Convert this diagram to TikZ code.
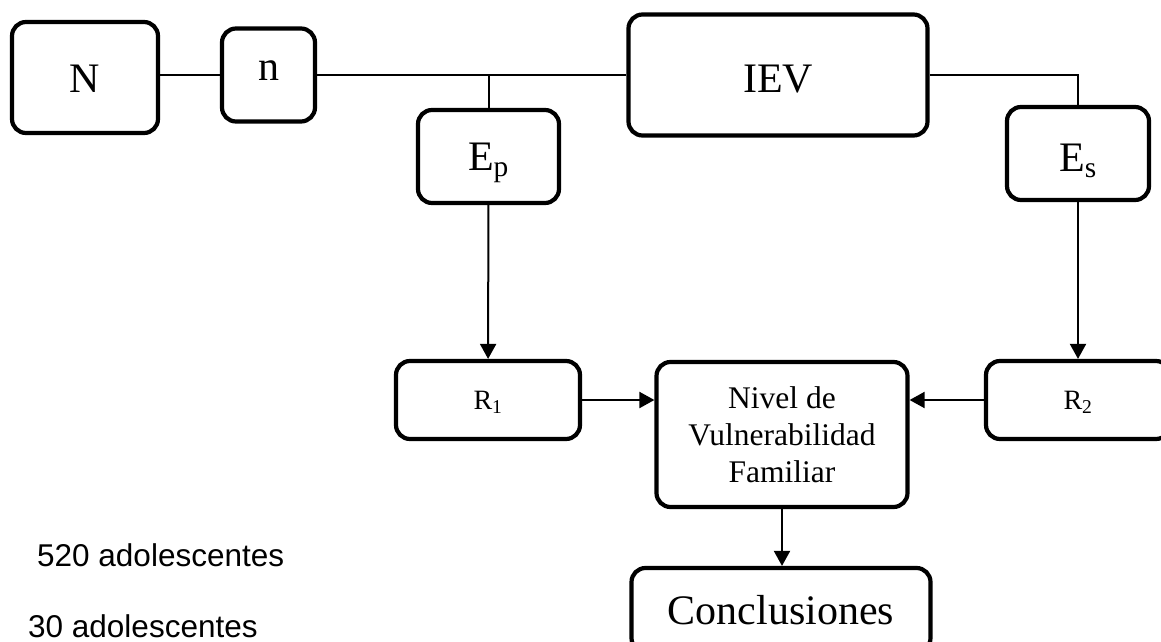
\documentclass[tikz,border=0pt]{standalone}
\usepackage{fontspec}
\setmainfont{Liberation Serif}
\setsansfont{Liberation Sans}
\usepackage{tikz}
\usetikzlibrary{arrows.meta, positioning}

% lower a label inside its box, keeping the box size
\newcommand{\dropby}[2]{\raisebox{-#1}[\height][\depth]{#2}}

\begin{document}
\begin{tikzpicture}[x=1pt, y=-1pt,
    box/.style={rectangle, draw=black, fill=white, line width=4.2pt, rounded corners=14pt, align=center, inner sep=0pt},
    bigtxt/.style={font=\fontsize{42}{50}\selectfont},
    midtxt/.style={font=\fontsize{31.5}{37}\selectfont},
    smalltxt/.style={font=\fontsize{28}{34}\selectfont},
    note/.style={anchor=base west, inner sep=0pt, font=\sffamily\fontsize{31.5}{38}\selectfont},
    line/.style={line width=2pt},
    arrow/.style={line width=2pt, -{Triangle[length=15pt, width=16pt]}}
]
    \useasboundingbox (0,0) rectangle (1161,642);
    \clip (0,0) rectangle (1161,642);

    \node[box, bigtxt, minimum width=146pt, minimum height=111pt] (N) at (85, 77.5) {\dropby{1.5pt}{N}};
    \node[box, bigtxt, minimum width=93pt, minimum height=93pt] (n) at (268.5, 75) {\dropby{-4pt}{n}};
    \node[box, bigtxt, minimum width=299pt, minimum height=121pt] (IEV) at (778, 75) {\dropby{4pt}{IEV}};
    \node[box, bigtxt, minimum width=141pt, minimum height=93pt] (Ep) at (488.5, 156.5) {\dropby{6.5pt}{E\textsubscript{p}}};
    \node[box, bigtxt, minimum width=142pt, minimum height=93pt] (Es) at (1078, 153.5) {\dropby{7.5pt}{E\textsubscript{s}}};
    \node[box, smalltxt, minimum width=184pt, minimum height=78pt] (R1) at (488, 400) {\dropby{2.5pt}{R\textsubscript{1}}};
    \node[box, midtxt, minimum width=251pt, minimum height=145pt] (nivel) at (782, 434.5) {Nivel de\\Vulnerabilidad\\Familiar};
    \node[box, smalltxt, minimum width=184pt, minimum height=78pt] (R2) at (1078, 400) {\dropby{2.5pt}{R\textsubscript{2}}};
    \node[box, bigtxt, minimum width=299pt, minimum height=84pt] (concl) at (781, 610) {Conclusiones};

    \node[note] (pobl) at (37, 566) {520 adolescentes};
    \node[note] (muest) at (28, 637) {30 adolescentes};

    \coordinate (tapEp) at (Ep.north |- IEV.west);

    \draw[line] (n.west) -- (n.west -| N.east);
    \draw[line] (n) -- (IEV);
    \draw[line] (tapEp) -- (Ep);
    \draw[line] (IEV.east) -| (Es.north);
    \draw[arrow] (Ep) -- (R1);
    \draw[arrow] (Es) -- (R2);
    \draw[arrow] (R1.east) -- (R1.east -| nivel.west);
    \draw[arrow] (R2.west) -- (R2.west -| nivel.east);
    \draw[arrow] (nivel) -- (nivel.south |- concl.north);
\end{tikzpicture}
\end{document}
